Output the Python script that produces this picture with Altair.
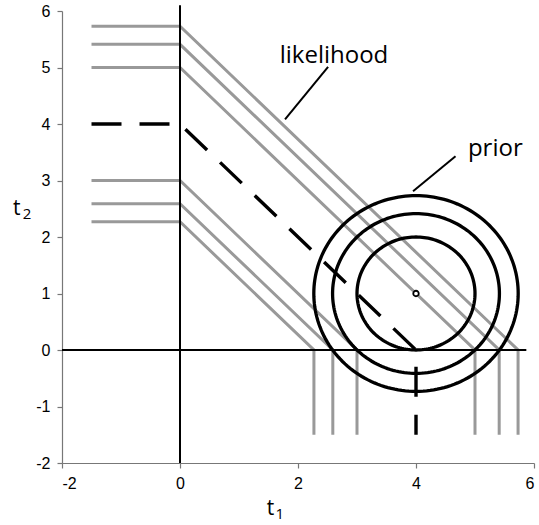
import altair as alt
import numpy as np
import pandas as pd

# Likelihood contour levels (t1 + t2 = c) and the observed sum (dashed)
likelihood_levels = [2.27, 2.59, 3.0, 5.0, 5.41, 5.73]
observed_sum = 4.0
# Prior: centred at (4, 1), contour radii
prior_center = (4.0, 1.0)
prior_radii = [1.0, 1.414, 1.732]
# Where the level lines are cut off outside the positive quadrant
stub_end = -1.5

x_ticks = [-2, 0, 2, 4, 6]
y_ticks = [-2, -1, 0, 1, 2, 3, 4, 5, 6]


def level_path(c, key):
    # horizontal stub -> diagonal t1 + t2 = c -> vertical stub
    pts = [(stub_end, c), (0.0, c), (c, 0.0), (c, stub_end)]
    return [{"x": px, "y": py, "k": key, "o": i} for i, (px, py) in enumerate(pts)]


lik_rows = []
for c in likelihood_levels:
    lik_rows += level_path(c, f"L{c}")
lik_df = pd.DataFrame(lik_rows)
obs_df = pd.DataFrame(level_path(observed_sum, "obs"))

ang = np.linspace(0, 2 * np.pi, 181)
circ_rows = []
for r in prior_radii:
    for i, a in enumerate(ang):
        circ_rows.append({"x": prior_center[0] + r * np.cos(a),
                          "y": prior_center[1] + r * np.sin(a),
                          "k": f"R{r}", "o": i})
circ_df = pd.DataFrame(circ_rows)

xs = alt.Scale(domain=[-2, 6], nice=False, zero=False)
ys = alt.Scale(domain=[-2, 6], nice=False, zero=False)
# plain hyphen-minus in tick labels
xaxis = alt.Axis(values=x_ticks, title=None, labelExpr="datum.value + ''")
yaxis = alt.Axis(values=y_ticks, title=None, labelExpr="datum.value + ''")
X = alt.X("x:Q", scale=xs, axis=xaxis)
Y = alt.Y("y:Q", scale=ys, axis=yaxis)

GREY = "#999999"

lik = alt.Chart(lik_df).mark_line(color=GREY, strokeWidth=3, strokeJoin="miter").encode(
    x=X, y=Y, detail="k:N", order="o:Q")

obs = alt.Chart(obs_df).mark_line(color="black", strokeWidth=3.4,
                                  strokeDash=[30, 18]).encode(
    x=X, y=Y, order="o:Q")

# coordinate axes through the origin
axes_df = pd.DataFrame({"x": [-2, 0], "x2": [5.87, 0], "y": [0, -2], "y2": [0, 6.1]})
axes_lines = alt.Chart(axes_df).mark_rule(color="black", strokeWidth=2, clip=False).encode(
    x=X, y=Y, x2="x2:Q", y2="y2:Q")

circles = alt.Chart(circ_df).mark_line(color="black", strokeWidth=3.3).encode(
    x=X, y=Y, detail="k:N", order="o:Q")

center = alt.Chart(pd.DataFrame({"x": [prior_center[0]], "y": [prior_center[1]]})).mark_point(
    shape="circle", size=30, filled=False, color="black", fill="white",
    fillOpacity=1, strokeWidth=1.8, opacity=1).encode(x=X, y=Y)

# annotation leaders
lead_df = pd.DataFrame({"x": [2.51, 4.67], "y": [5.01, 3.43],
                        "x2": [1.78, 3.95], "y2": [4.08, 2.81]})
leaders = alt.Chart(lead_df).mark_rule(color="black", strokeWidth=2).encode(
    x=X, y=Y, x2="x2:Q", y2="y2:Q")

FONT = "Open Sans"


def label(text, x, y, size):
    return alt.Chart().mark_text(text=text, font=FONT, fontSize=size, align="left",
                                 baseline="alphabetic", color="black", clip=False).encode(
        x=alt.datum(x, scale=xs), y=alt.datum(y, scale=ys))


texts = [
    label("likelihood", 1.69, 5.085, 24),
    label("prior", 4.88, 3.434, 24),
    label("t", 1.47, -2.92, 21),
    label("1", 1.62, -2.99, 15),
    label("t", -2.83, 2.389, 21),
    label("2", -2.665, 2.319, 15),
]

chart = alt.layer(lik, obs, axes_lines, circles, center, leaders, *texts).properties(
    width=472, height=452,
    autosize=alt.AutoSizeParams(type="none"),
    padding={"left": 62, "top": 11, "right": 5, "bottom": 62},
    background="white",
).configure_view(stroke=None).configure_axis(
    grid=False, domainColor="#777777", domainWidth=1.2, tickColor="#777777",
    tickSize=5, tickWidth=1.2, labelFont="Liberation Sans", labelFontSize=16,
    labelColor="black", labelPadding=7,
)

chart.save("out.html", embed_options={"renderer": "svg", "actions": False})
